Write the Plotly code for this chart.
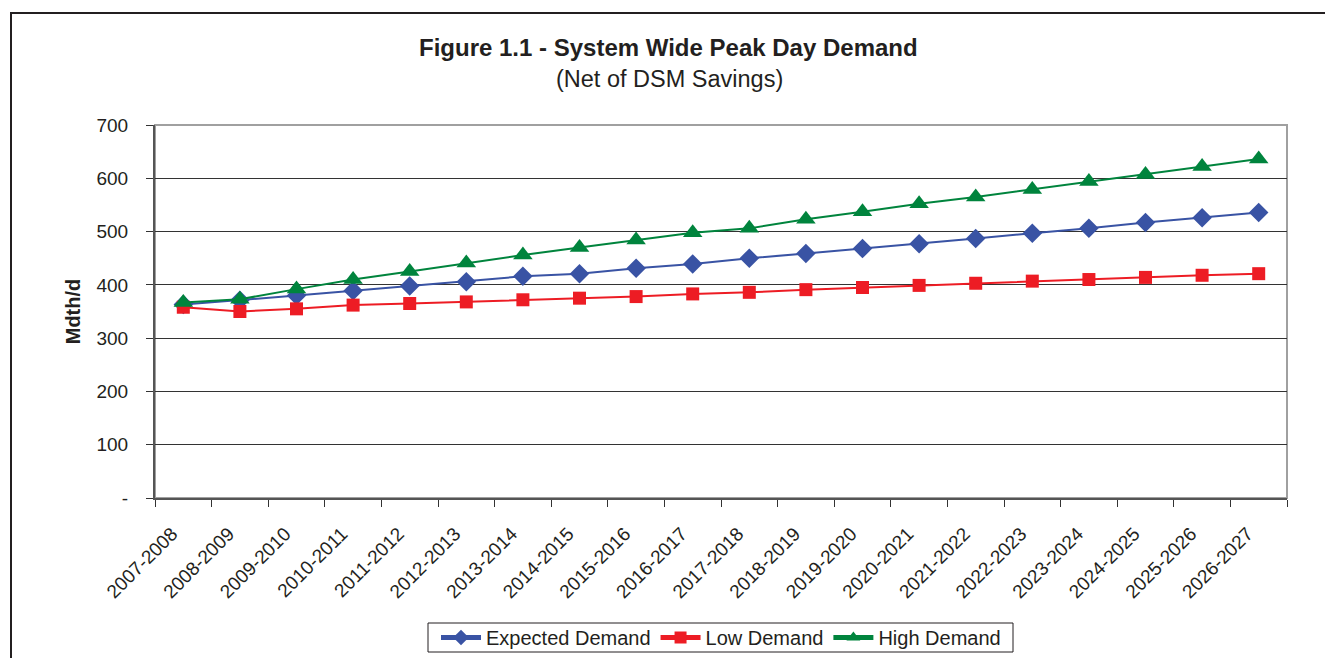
import plotly.graph_objects as go

categories = ["2007-2008", "2008-2009", "2009-2010", "2010-2011", "2011-2012",
              "2012-2013", "2013-2014", "2014-2015", "2015-2016", "2016-2017",
              "2017-2018", "2018-2019", "2019-2020", "2020-2021", "2021-2022",
              "2022-2023", "2023-2024", "2024-2025", "2025-2026", "2026-2027"]
expected = [363, 371, 380, 389, 398, 406, 416, 421, 431, 439,
            450, 459, 468, 477, 487, 497, 506, 517, 526, 536]
low = [358, 350, 355, 362, 365, 368, 372, 375, 378, 383,
       386, 391, 395, 399, 403, 407, 410, 414, 418, 421]
high = [367, 373, 392, 410, 425, 441, 456, 470, 484, 498,
        506, 523, 537, 552, 565, 579, 594, 607, 622, 636]
y_ticks = [0, 100, 200, 300, 400, 500, 600, 700]
y_tick_text = ["-", "100", "200", "300", "400", "500", "600", "700"]

FONT = "Liberation Sans, Arial, sans-serif"
TXT = "#231F20"

fig = go.Figure()
fig.add_trace(go.Scatter(x=categories, y=expected, name="Expected Demand", mode="lines+markers",
                         line=dict(color="#3953A4", width=2),
                         marker=dict(symbol="diamond", size=15, color="#3953A4")))
fig.add_trace(go.Scatter(x=categories, y=low, name="Low Demand", mode="lines+markers",
                         line=dict(color="#ED1C24", width=2),
                         marker=dict(symbol="square", size=13, color="#ED1C24")))
fig.add_trace(go.Scatter(x=categories, y=high, name="High Demand", mode="lines+markers",
                         line=dict(color="#00843D", width=2),
                         marker=dict(symbol="triangle-up", size=17, color="#00843D")))

L, R, T, B = 155, 38, 125, 160
W, H = 1325, 658
pw = W - L - R
ph = H - T - B

def px_x(x):
    return (x - L) / pw

def px_y(y):
    return (H - B - y) / ph

fig.update_layout(
    width=W, height=H,
    margin=dict(l=L, r=R, t=T, b=B, autoexpand=False),
    paper_bgcolor="white", plot_bgcolor="white",
    font=dict(family=FONT, color=TXT, size=19),
    showlegend=True,
    legend=dict(orientation="h", x=px_x(721), xanchor="center", y=px_y(637.5), yanchor="middle",
                borderwidth=0, font=dict(size=20), bgcolor="rgba(0,0,0,0)",
                itemwidth=40, tracegroupgap=0, itemsizing="constant"),
    xaxis=dict(type="category", showgrid=False, ticks="outside", tickson="boundaries",
               ticklen=7, tickcolor="#333", showline=True, linecolor="#555", linewidth=2,
               tickangle=-45, tickfont=dict(size=19), ticklabelstandoff=4,
               ticksuffix="\u00a0\u00a0\u00a0", automargin=False,
               range=[-0.5, len(categories) - 0.5]),
    yaxis=dict(range=[0, 700], tickvals=y_ticks, ticktext=y_tick_text, showgrid=True,
               gridcolor="#333", gridwidth=1, ticks="outside", ticklen=7, tickcolor="#333",
               showline=True, linecolor="#555", linewidth=2, zeroline=False,
               tickfont=dict(size=19), ticklabelstandoff=14, automargin=False,
               title=dict(text="<b>Mdth/d</b>", font=dict(size=20), standoff=10)),
    shapes=[
        dict(type="rect", xref="paper", yref="paper", x0=0, x1=1, y0=0, y1=1,
             line=dict(color="#A0A0A0", width=2), layer="below"),
        dict(type="rect", xref="paper", yref="paper", x0=px_x(11), x1=px_x(1335),
             y0=px_y(670), y1=px_y(13), line=dict(color=TXT, width=2)),
        dict(type="rect", xref="paper", yref="paper", x0=px_x(428), x1=px_x(1013),
             y0=px_y(652), y1=px_y(623), line=dict(color=TXT, width=1)),
    ],
    annotations=[
        dict(text="<b>Figure 1.1 - System Wide Peak Day Demand</b>", xref="paper", yref="paper",
             x=px_x(668), y=px_y(47), xanchor="center", yanchor="middle", showarrow=False,
             font=dict(size=24, color=TXT)),
        dict(text="(Net of DSM Savings)", xref="paper", yref="paper",
             x=px_x(669), y=px_y(79), xanchor="center", yanchor="middle", showarrow=False,
             font=dict(size=23.5, color=TXT)),
    ],
)

fig.write_html("out.html", config={"displayModeBar": False},
               post_script="document.body.style.margin='0';")
